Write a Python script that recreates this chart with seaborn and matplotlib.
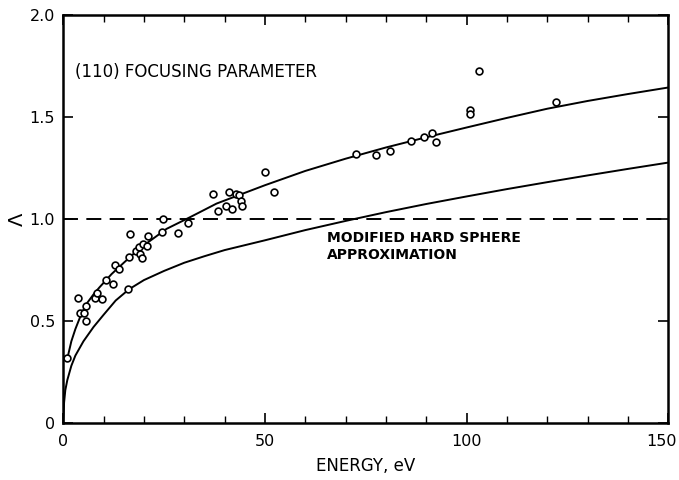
import matplotlib
matplotlib.use("Agg")
import matplotlib.pyplot as plt
import matplotlib.transforms as mtransforms
import seaborn as sns
import pandas as pd
from matplotlib.ticker import MultipleLocator

# Measured points (energy eV, focusing parameter)
pt_energy = [1.0, 3.7, 4.1, 5.2, 5.6, 5.6, 7.9, 8.4, 9.7, 10.6, 12.4, 12.8, 13.8,
             16.1, 16.3, 16.5, 18.0, 18.8, 19.0, 19.6, 19.8, 20.7, 20.9, 24.8,
             24.4, 28.5, 31.0, 37.0, 41.2, 42.7, 43.6, 38.4, 40.3, 41.8, 44.0,
             44.2, 50.0, 52.2, 72.5, 77.5, 81.0, 86.2, 89.4, 91.3, 92.4, 100.8,
             100.8, 103.1, 122.2]
pt_lambda = [0.319, 0.614, 0.540, 0.540, 0.499, 0.573, 0.614, 0.639, 0.606, 0.701,
             0.683, 0.773, 0.754, 0.655, 0.814, 0.926, 0.844, 0.861, 0.828, 0.806,
             0.877, 0.868, 0.918, 0.997, 0.934, 0.930, 0.980, 1.123, 1.134, 1.123,
             1.115, 1.041, 1.063, 1.049, 1.090, 1.063, 1.230, 1.134, 1.317, 1.313,
             1.335, 1.381, 1.399, 1.419, 1.378, 1.533, 1.512, 1.723, 1.575]

# Upper fitted curve
up_energy = [1.0, 2.0, 3.0, 4.0, 5.0, 6.0, 7.5, 9.0, 12.0, 15.0, 17.4, 21.0, 25.6,
             31.4, 38.0, 44.0, 50.0, 60.0, 70.0, 80.0, 90.0, 100.0, 110.0, 120.0,
             130.0, 140.0, 150.0]
up_lambda = [0.315, 0.40, 0.46, 0.51, 0.555, 0.59, 0.63, 0.665, 0.73, 0.785, 0.828,
             0.885, 0.951, 1.008, 1.075, 1.12, 1.165, 1.235, 1.295, 1.35, 1.40,
             1.448, 1.495, 1.54, 1.578, 1.612, 1.644]

# Lower curve: modified hard sphere approximation
lo_energy = [0.0, 0.2, 0.5, 1.0, 2.0, 3.0, 5.0, 7.5, 10.0, 13.0, 16.3, 20.0, 25.0,
             30.0, 35.0, 40.0, 50.0, 60.0, 70.0, 80.0, 90.0, 100.0, 110.0, 120.0,
             130.0, 140.0, 150.0]
lo_lambda = [0.0, 0.10, 0.16, 0.21, 0.28, 0.33, 0.40, 0.47, 0.53, 0.60, 0.655, 0.70,
             0.745, 0.785, 0.817, 0.847, 0.895, 0.945, 0.99, 1.033, 1.073, 1.11,
             1.146, 1.18, 1.213, 1.245, 1.276]

ref_level = 1.0

sns.set_theme(style="white")
plt.rcParams['font.family'] = ['DejaVu Sans']
plt.rcParams['text.color'] = 'black'
plt.rcParams['axes.labelcolor'] = 'black'
plt.rcParams['xtick.color'] = 'black'
plt.rcParams['ytick.color'] = 'black'

fig = plt.figure(figsize=(6.79, 4.8), dpi=100)
ax = fig.add_axes([0.0932, 0.119, 0.891, 0.850])

df_pts = pd.DataFrame({"E": pt_energy, "L": pt_lambda})
df_up = pd.DataFrame({"E": up_energy, "L": up_lambda})
df_lo = pd.DataFrame({"E": lo_energy, "L": lo_lambda})

ax.axhline(ref_level, color="black", lw=1.4, dashes=(7.7, 4.3), zorder=1)
sns.lineplot(data=df_up, x="E", y="L", ax=ax, color="black", lw=1.4,
             sort=False, estimator=None, zorder=2)
sns.lineplot(data=df_lo, x="E", y="L", ax=ax, color="black", lw=1.4,
             sort=False, estimator=None, zorder=2)
sns.scatterplot(data=df_pts, x="E", y="L", ax=ax, marker="o", s=24,
                facecolor="white", edgecolor="black", linewidth=1.2, zorder=3)

ax.set_xlim(0, 150)
ax.set_ylim(0, 2.0)
ax.set_xticks([0, 50, 100, 150])
ax.set_xticklabels(["0", "50", "100", "150"])
ax.set_yticks([0, 0.5, 1.0, 1.5, 2.0])
ax.set_yticklabels(["0", "0.5", "1.0", "1.5", "2.0"])
ax.xaxis.set_minor_locator(MultipleLocator(10))
ax.tick_params(axis="both", which="major", direction="in", length=7, width=1.2,
               labelsize=11.5, top=True, right=True, bottom=True, left=True,
               pad=6, colors="black")
ax.tick_params(axis="x", which="major", pad=8)
ax.tick_params(axis="x", which="minor", direction="in", length=5, width=1.0,
               top=True, bottom=True, colors="black")
for s in ax.spines.values():
    s.set_linewidth(1.8)
    s.set_color("black")

# nudge the last x tick label so it stays inside the figure
last = ax.get_xticklabels()[-1]
last.set_transform(last.get_transform() +
                   mtransforms.ScaledTranslation(-7 / 100, 0, fig.dpi_scale_trans))

ax.set_xlabel("ENERGY, eV", fontsize=12, labelpad=6, color="black")
ax.set_ylabel("Λ", fontsize=14, labelpad=2, color="black")

ax.text(3, 1.72, "(110) FOCUSING PARAMETER", fontsize=12, va="center", ha="left",
        color="black")
ax.text(65.4, 0.906, "MODIFIED HARD SPHERE", fontsize=10, fontweight="bold",
        va="center", ha="left", color="black")
ax.text(65.4, 0.823, "APPROXIMATION", fontsize=10, fontweight="bold",
        va="center", ha="left", color="black")

fig.savefig("out.png", dpi=100, facecolor="white")
